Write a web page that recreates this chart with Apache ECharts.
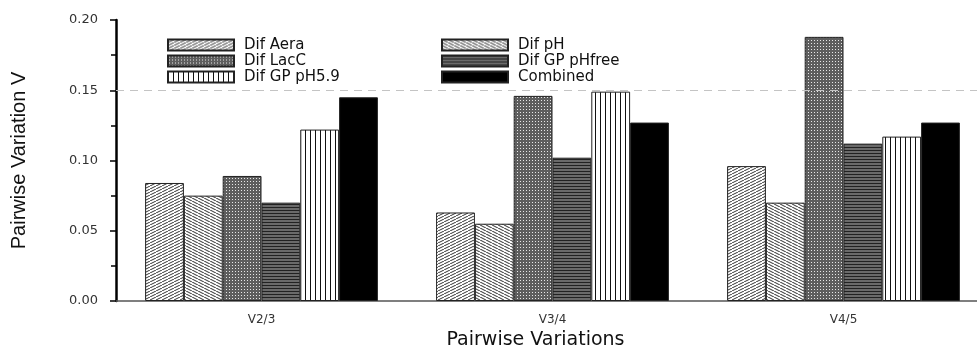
<!DOCTYPE html>
<html>
<head>
<meta charset="utf-8">
<script src="https://cdn.jsdelivr.net/npm/echarts@6/dist/echarts.min.js"></script>
<style>
  html, body { margin: 0; padding: 0; background: #fff; }
  #chart { width: 977px; height: 350px; }
</style>
</head>
<body>
<div id="chart"></div>
<script>
// data
var categories = ['V2/3', 'V3/4', 'V4/5'];
var difAera = [0.084, 0.063, 0.096];
var difPH = [0.075, 0.055, 0.070];
var difLacC = [0.089, 0.146, 0.188];
var difGPpHfree = [0.070, 0.102, 0.112];
var difGPpH59 = [0.122, 0.149, 0.117];
var combined = [0.145, 0.127, 0.127];
var yTicks = [0, 0.05, 0.10, 0.15, 0.20];
var refLine = 0.15;

// small canvas tiles used as bar fills
function pattern(w, h, bg, draw) {
    var c = document.createElement('canvas');
    c.width = w; c.height = h;
    var ctx = c.getContext('2d');
    ctx.fillStyle = bg;
    ctx.fillRect(0, 0, w, h);
    draw(ctx, w, h);
    return {image: c, repeat: 'repeat'};
}
function diag(ctx, w, h, up) {
    ctx.beginPath();
    for (var k = -1; k <= 1; k++) {
        if (up) { ctx.moveTo(k * w, h); ctx.lineTo(k * w + w, 0); }
        else { ctx.moveTo(k * w, 0); ctx.lineTo(k * w + w, h); }
    }
    ctx.stroke();
}

var fillAera = pattern(6, 3, '#fff', function (ctx, w, h) {
    ctx.strokeStyle = '#333'; ctx.lineWidth = 1; diag(ctx, w, h, true);
});
var fillPH = pattern(6, 3, '#fff', function (ctx, w, h) {
    ctx.strokeStyle = '#444'; ctx.lineWidth = 1.1; diag(ctx, w, h, false);
});
var fillLacC = pattern(3, 3, '#5e5e5e', function (ctx) {
    ctx.fillStyle = '#e8e8e8'; ctx.fillRect(1, 1, 1, 1);
});
var fillPHfree = pattern(1, 3, '#6a6a6a', function (ctx) {
    ctx.fillStyle = '#222'; ctx.fillRect(0, 0, 1, 1);
});
var fillPH59 = pattern(5, 1, '#fff', function (ctx) {
    ctx.fillStyle = '#111'; ctx.fillRect(0, 0, 1, 1);
});

var names = ['Dif Aera', 'Dif pH', 'Dif LacC', 'Dif GP pHfree', 'Dif GP pH5.9', 'Combined'];
var values = [difAera, difPH, difLacC, difGPpHfree, difGPpH59, combined];
var fills = [fillAera, fillPH, fillLacC, fillPHfree, fillPH59, '#000'];

var series = names.map(function (n, i) {
    return {
        name: n,
        type: 'bar',
        barGap: '0%',
        barCategoryGap: '20%',
        z: 2,
        itemStyle: {color: fills[i], borderColor: '#222', borderWidth: 1},
        data: values[i]
    };
});
// dashed reference line, kept behind the bars
series.push({
    type: 'line',
    data: [],
    z: 1,
    silent: true,
    markLine: {
        silent: true,
        symbol: ['none', 'none'],
        label: {show: false},
        lineStyle: {color: '#c4c4c4', type: [8, 6], width: 1},
        data: [{yAxis: refLine}]
    }
});

var legendText = {fontFamily: 'DejaVu Sans', fontSize: 15, color: '#111', lineHeight: 16, padding: [0, 0, 0, 5]};

var option = {
    animation: false,
    backgroundColor: '#fff',
    grid: {left: 116, top: 20, bottom: 49, width: 873, outerBoundsMode: 'none', containLabel: false},
    legend: [{
        data: ['Dif Aera', 'Dif LacC', 'Dif GP pH5.9'],
        orient: 'vertical', left: 162, top: 32, itemGap: 0,
        itemWidth: 66, itemHeight: 11, icon: 'rect',
        textStyle: legendText, selectedMode: false
    }, {
        data: ['Dif pH', 'Dif GP pHfree', 'Combined'],
        orient: 'vertical', left: 436, top: 32, itemGap: 0,
        itemWidth: 66, itemHeight: 11, icon: 'rect',
        textStyle: legendText, selectedMode: false
    }],
    xAxis: {
        type: 'category',
        data: categories,
        name: 'Pairwise Variations',
        nameLocation: 'middle',
        nameGap: 28,
        nameTextStyle: {fontFamily: 'DejaVu Sans', fontSize: 19, color: '#111', padding: [0, 34, 0, 0]},
        axisLine: {lineStyle: {color: '#555', width: 1.5}},
        axisTick: {alignWithLabel: true, length: 5, lineStyle: {color: '#333', width: 1.5}},
        axisLabel: {fontFamily: 'DejaVu Sans', fontSize: 12, color: '#333', margin: 13}
    },
    yAxis: {
        type: 'value',
        min: yTicks[0],
        max: yTicks[yTicks.length - 1],
        interval: 0.05,
        name: 'Pairwise Variation V',
        nameLocation: 'middle',
        nameGap: 87,
        nameTextStyle: {fontFamily: 'Liberation Sans', fontSize: 20, color: '#111'},
        axisLine: {show: true, lineStyle: {color: '#000', width: 2.5}},
        axisTick: {show: true, inside: false, length: 6, lineStyle: {color: '#000', width: 1.5}},
        minorTick: {show: true, splitNumber: 2, length: 5, lineStyle: {color: '#000', width: 1.5}},
        splitLine: {show: false},
        axisLabel: {
            fontFamily: 'DejaVu Sans', fontSize: 13, color: '#333', margin: 18,
            formatter: function (v) { return v.toFixed(2); }
        }
    },
    series: series
};

var myChart = echarts.init(document.getElementById('chart'));
myChart.setOption(option);
</script>
</body>
</html>
